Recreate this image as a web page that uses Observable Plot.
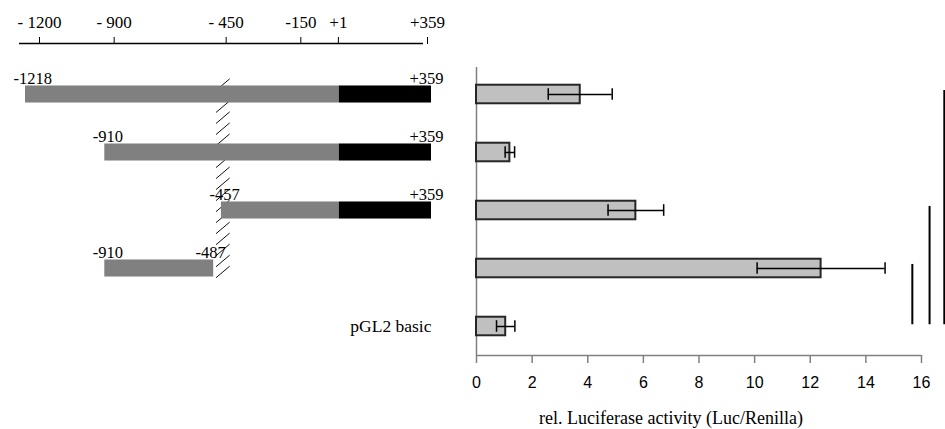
<!DOCTYPE html>
<html><head><meta charset="utf-8">
<script src="https://cdn.jsdelivr.net/npm/d3@7"></script>
<script src="https://cdn.jsdelivr.net/npm/@observablehq/plot@0.6"></script>
<style>
html,body{margin:0;padding:0;background:#fff;}
#fig{position:relative;width:945px;height:429px;overflow:hidden;background:#fff;}
#fig > svg{position:absolute;top:0;margin:0;}
</style></head><body><div id="fig"></div>
<script>
// ---- data ----
const constructs = ["-1218/+359", "-910/+359", "-457/+359", "-910/-487", "pGL2 basic"];
const starts = [-1218, -910, -457, -910, null];
const ends = [359, 359, 359, -487, null];
const tss = 1;
const activity = [3.73, 1.2, 5.73, 12.39, 1.05];
const errors = [1.15, 0.17, 1.0, 2.3, 0.33];
const sigFrom = [0, 2, 3];
const sigTo = [4, 4, 4];
const sigX = [16.82, 16.29, 15.67];
const positionTicks = [-1200, -900, -450, -150, 1, 359];
const positionTickLabels = ["- 1200", "- 900", "- 450", "-150", "+1", "+359"];
const activityTicks = [0, 2, 4, 6, 8, 10, 12, 14, 16];
const xTitle = "rel. Luciferase activity (Luc/Renilla)";
const breakPos = [-478, -425];

// ---- derived tables ----
const rows = constructs.map((name, i) => ({name, i, start: starts[i], end: ends[i], act: activity[i], err: errors[i]}));
const built = rows.filter(d => d.start != null);
const promoterSeg = built.map(d => ({i: d.i, x1: d.start, x2: Math.min(d.end, tss)}));
const geneSeg = built.filter(d => d.end > tss).map(d => ({i: d.i, x1: tss, x2: d.end}));
const sigs = sigFrom.map((f, k) => ({from: f, to: sigTo[k], x: sigX[k]}));
const hatch = d3.range(-0.07, 3.35, 0.19);

const serif = "Liberation Serif, Times New Roman, serif";
const sans = "Liberation Sans, Arial, sans-serif";
const yDomain = [-0.5, 4.5];
const fig = document.getElementById("fig");

// ---- top position axis ----
const axisTop = Plot.plot({
  width: 460, height: 55, marginTop: 43, marginBottom: 0, marginLeft: 39, marginRight: 33,
  style: {background: "transparent", overflow: "visible"},
  x: {domain: [-1200, 359], label: null},
  y: {domain: [0, 1], axis: null},
  marks: [
    Plot.ruleY([1], {stroke: "#000", strokeWidth: 1.3, insetLeft: -20, insetRight: 4}),
    Plot.axisX(positionTicks, {anchor: "top", tickSize: 7, tickPadding: 9, label: null,
      tickFormat: d => positionTickLabels[positionTicks.indexOf(d)],
      fontSize: 17, fontFamily: serif, stroke: "#000", fill: "#000"})
  ]
});

// ---- constructs ----
const left = Plot.plot({
  width: 460, height: 429, marginTop: 65, marginBottom: 74, marginLeft: 25, marginRight: 29,
  style: {background: "transparent", overflow: "visible"},
  x: {domain: [-1218, 359], axis: null, label: null},
  y: {domain: yDomain, reverse: true, axis: null},
  marks: [
    Plot.link(hatch, {x1: breakPos[0], x2: breakPos[1], y1: d => d, y2: d => d - 0.2, stroke: "#111", strokeWidth: 1}),
    Plot.rect(promoterSeg, {x1: "x1", x2: "x2", y1: d => d.i - 0.147, y2: d => d.i + 0.147, fill: "#808080"}),
    Plot.rect(geneSeg, {x1: "x1", x2: "x2", y1: d => d.i - 0.147, y2: d => d.i + 0.147, fill: "#000"}),
    Plot.text(built, {x: "start", y: "i", text: d => String(d.start), textAnchor: "start", dx: -12, dy: -16, fontSize: 16.5, fontFamily: serif, fill: "#000"}),
    Plot.text(built.filter(d => d.end > tss), {x: "end", y: "i", text: d => "+" + d.end, textAnchor: "end", dx: 12, dy: -16, fontSize: 16.5, fontFamily: serif, fill: "#000"}),
    Plot.text(built.filter(d => d.end <= tss), {x: "end", y: "i", text: d => String(d.end), textAnchor: "end", dx: 12, dy: -16, fontSize: 16.5, fontFamily: serif, fill: "#000"}),
    Plot.text(rows.filter(d => d.start == null), {frameAnchor: "right", y: "i", text: "name", textAnchor: "end", fontSize: 17.5, fontFamily: serif, fill: "#000"})
  ]
});

// ---- activity bars ----
const right = Plot.plot({
  width: 485, height: 429, marginTop: 65, marginBottom: 74, marginLeft: 16, marginRight: 24,
  style: {background: "transparent", overflow: "visible"},
  x: {domain: [0, 16], label: null},
  y: {domain: yDomain, reverse: true, axis: null},
  marks: [
    Plot.ruleX([0], {stroke: "#808080", strokeWidth: 1.5, insetTop: 2}),
    Plot.ruleY([yDomain[1]], {stroke: "#808080", strokeWidth: 1.5}),
    Plot.rect(rows, {x1: 0, x2: "act", y1: d => d.i - 0.16, y2: d => d.i + 0.16, fill: "#c0c0c0", stroke: "#262626", strokeWidth: 2}),
    Plot.ruleY(rows, {y: "i", x1: d => d.act - d.err, x2: d => d.act + d.err, stroke: "#000", strokeWidth: 1.5}),
    Plot.ruleX(rows, {x: d => d.act - d.err, y1: d => d.i - 0.1, y2: d => d.i + 0.1, stroke: "#000", strokeWidth: 1.5}),
    Plot.ruleX(rows, {x: d => d.act + d.err, y1: d => d.i - 0.1, y2: d => d.i + 0.1, stroke: "#000", strokeWidth: 1.5}),
    Plot.ruleX(sigs, {x: "x", y1: d => d.from - 0.07, y2: d => d.to - 0.03, stroke: "#000", strokeWidth: 2}),
    Plot.axisX(activityTicks, {anchor: "bottom", tickSize: 8, tickPadding: 13, label: null,
      fontSize: 16, fontFamily: sans, stroke: "#808080", strokeWidth: 1.5, fill: "#000"}),
    Plot.text([xTitle], {frameAnchor: "bottom", dx: -28, dy: 68, fontSize: 18, fontFamily: serif, fill: "#000"})
  ]
});

axisTop.style.left = "0px";
left.style.left = "0px";
right.style.left = "460px";
fig.appendChild(left);
fig.appendChild(axisTop);
fig.appendChild(right);
</script>
</body></html>
